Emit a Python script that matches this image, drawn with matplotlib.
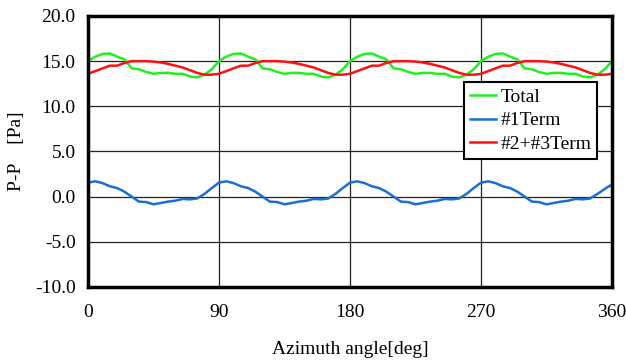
import numpy as np
import matplotlib
matplotlib.use('Agg')
import matplotlib.pyplot as plt

plt.rcParams['font.family'] = ['Liberation Serif', 'DejaVu Serif']

angle = np.arange(0, 361, 5)

total = [15.0, 15.5, 15.8, 15.85, 15.5, 15.2, 14.2, 14.1, 13.8, 13.6, 13.7, 13.7, 13.6, 13.6, 13.3, 13.2, 13.5, 14.1,
         15.0, 15.5, 15.8, 15.85, 15.5, 15.2, 14.2, 14.1, 13.8, 13.6, 13.7, 13.7, 13.6, 13.6, 13.3, 13.2, 13.5, 14.1,
         15.0, 15.5, 15.8, 15.85, 15.5, 15.2, 14.2, 14.1, 13.8, 13.6, 13.7, 13.7, 13.6, 13.6, 13.3, 13.2, 13.5, 14.1,
         15.0, 15.5, 15.8, 15.85, 15.5, 15.2, 14.2, 14.1, 13.8, 13.6, 13.7, 13.7, 13.6, 13.6, 13.3, 13.2, 13.5, 14.1,
         15.0]
term1 = [1.55, 1.7, 1.5, 1.15, 0.95, 0.55, 0.0, -0.55, -0.6, -0.85, -0.7, -0.55, -0.45, -0.25, -0.3, -0.2, 0.3, 0.95,
         1.55, 1.7, 1.5, 1.15, 0.95, 0.55, 0.0, -0.55, -0.6, -0.85, -0.7, -0.55, -0.45, -0.25, -0.3, -0.2, 0.3, 0.95,
         1.55, 1.7, 1.5, 1.15, 0.95, 0.55, 0.0, -0.55, -0.6, -0.85, -0.7, -0.55, -0.45, -0.25, -0.3, -0.2, 0.3, 0.95,
         1.55, 1.7, 1.5, 1.15, 0.95, 0.55, 0.0, -0.55, -0.6, -0.85, -0.7, -0.55, -0.45, -0.25, -0.3, -0.2, 0.3, 0.85,
         1.35]
term23 = [13.6, 13.9, 14.2, 14.5, 14.5, 14.8, 15.0, 15.0, 15.0, 14.95, 14.85, 14.7, 14.5, 14.3, 14.0, 13.7, 13.5, 13.5,
          13.6, 13.9, 14.2, 14.5, 14.5, 14.8, 15.0, 15.0, 15.0, 14.95, 14.85, 14.7, 14.5, 14.3, 14.0, 13.7, 13.5, 13.5,
          13.6, 13.9, 14.2, 14.5, 14.5, 14.8, 15.0, 15.0, 15.0, 14.95, 14.85, 14.7, 14.5, 14.3, 14.0, 13.7, 13.5, 13.5,
          13.6, 13.9, 14.2, 14.5, 14.5, 14.8, 15.0, 15.0, 15.0, 14.95, 14.85, 14.7, 14.5, 14.3, 14.0, 13.7, 13.5, 13.5,
          13.6]

fig = plt.figure(figsize=(6.26, 3.6), dpi=100)
ax = fig.add_axes([0.1406, 0.2028, 0.837, 0.7528])

ax.plot(angle, total, color='#22ee22', lw=1.8, label='Total')
ax.plot(angle, term1, color='#1a6fd0', lw=1.8, label='#1Term')
ax.plot(angle, term23, color='#ff1010', lw=1.8, label='#2+#3Term')

ax.set_xlim(0, 360)
ax.set_ylim(-10, 20)
ax.set_xticks([0, 90, 180, 270, 360])
ax.set_yticks(np.arange(-10, 20.1, 5))
ax.set_yticklabels(['%.1f' % v for v in np.arange(-10, 20.1, 5)])
ax.tick_params(axis='both', length=0, labelsize=14)
ax.tick_params(axis='x', pad=12)
ax.tick_params(axis='y', pad=9)
ax.grid(True, color='#222222', lw=0.9)
for s in ax.spines.values():
    s.set_linewidth(2.5)
    s.set_color('black')

ax.set_xlabel('Azimuth angle[deg]', fontsize=14)
ax.xaxis.set_label_coords(0.5, -0.2)
ax.set_ylabel('P-P    [Pa]', fontsize=14)
ax.yaxis.set_label_coords(-0.12, 0.5)

leg = ax.legend(loc='upper left', bbox_to_anchor=(0.717, 0.756), fontsize=14,
                frameon=True, fancybox=False, shadow=False, borderpad=0.3,
                handlelength=1.35, handletextpad=0.25, labelspacing=0.32, borderaxespad=0)
leg.get_frame().set_edgecolor('black')
leg.get_frame().set_linewidth(1.5)
leg.get_frame().set_alpha(1)

fig.savefig('out.png', dpi=100)
